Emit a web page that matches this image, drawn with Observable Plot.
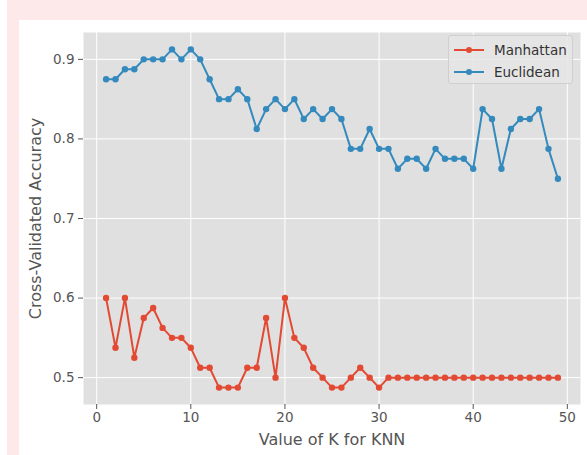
<!DOCTYPE html>
<html><head><meta charset="utf-8">
<script src="https://cdn.jsdelivr.net/npm/d3@7"></script>
<script src="https://cdn.jsdelivr.net/npm/@observablehq/plot@0.6"></script>
<style>
body{margin:0;background:#fff;}
#wrap{position:relative;width:587px;height:455px;overflow:hidden;font-family:"DejaVu Sans",sans-serif;}
.pink-top{position:absolute;left:7px;top:0;width:580px;height:20px;background:#fde8ea;}
.pink-left{position:absolute;left:7px;top:0;width:12px;height:455px;background:#fde8ea;}
#chart{position:absolute;left:0;top:0;}
#legend{position:absolute;left:448px;top:35px;width:125px;height:49px;box-sizing:border-box;background:rgba(229,229,229,0.85);border:1px solid #cfcfcf;border-radius:3px;}
.row{position:absolute;left:0;height:20px;display:flex;align-items:center;}
.row svg{margin-left:5px;}
.row span{margin-left:10px;font-size:13.5px;color:#333;}
</style>
</head><body>
<div id="wrap">
  <div class="pink-top"></div>
  <div class="pink-left"></div>
  <div id="chart"></div>
  <div id="legend"></div>
</div>
<script>
const k = [1,2,3,4,5,6,7,8,9,10,11,12,13,14,15,16,17,18,19,20,21,22,23,24,25,26,27,28,29,30,31,32,33,34,35,36,37,38,39,40,41,42,43,44,45,46,47,48,49];
const manhattan = [0.6,0.5375,0.6,0.525,0.575,0.5875,0.5625,0.55,0.55,0.5375,
  0.5125,0.5125,0.4875,0.4875,0.4875,0.5125,0.5125,0.575,0.5,0.6,
  0.55,0.5375,0.5125,0.5,0.4875,0.4875,0.5,0.5125,0.5,0.4875,
  0.5,0.5,0.5,0.5,0.5,0.5,0.5,0.5,0.5,0.5,
  0.5,0.5,0.5,0.5,0.5,0.5,0.5,0.5,0.5];
const euclidean = [0.875,0.875,0.8875,0.8875,0.9,0.9,0.9,0.9125,0.9,0.9125,
  0.9,0.875,0.85,0.85,0.8625,0.85,0.8125,0.8375,0.85,0.8375,
  0.85,0.825,0.8375,0.825,0.8375,0.825,0.7875,0.7875,0.8125,0.7875,
  0.7875,0.7625,0.775,0.775,0.7625,0.7875,0.775,0.775,0.775,0.7625,
  0.8375,0.825,0.7625,0.8125,0.825,0.825,0.8375,0.7875,0.75];
const series = ["Manhattan","Euclidean"];
const colors = ["#E24A33","#348ABD"];
const xTicks = [0,10,20,30,40,50];
const yTicks = [0.5,0.6,0.7,0.8,0.9];
const xLabel = "Value of K for KNN";
const yLabel = "Cross-Validated Accuracy";

const data = [];
const values = {Manhattan: manhattan, Euclidean: euclidean};
for (const s of series) k.forEach((kk, i) => data.push({k: kk, acc: values[s][i], metric: s}));

const chart = Plot.plot({
  width: 587, height: 455,
  marginLeft: 83, marginRight: 7, marginTop: 32, marginBottom: 51,
  style: {background: "transparent", fontFamily: "DejaVu Sans", fontSize: "13px", color: "#555"},
  x: {domain: [-1.4, 51.4]},
  y: {domain: [0.46625, 0.93375]},
  color: {domain: series, range: colors},
  marks: [
    Plot.frame({fill: "#e0e0e0", stroke: "none"}),
    Plot.gridX(xTicks, {stroke: "white", strokeOpacity: 1, strokeWidth: 1}),
    Plot.gridY(yTicks, {stroke: "white", strokeOpacity: 1, strokeWidth: 1}),
    Plot.axisX(xTicks, {tickSize: 5, tickPadding: 3, label: null, stroke: "#555", fill: "#555", fontSize: 13.5}),
    Plot.axisY(yTicks, {tickSize: 5, tickPadding: 4, label: null, stroke: "#555", fill: "#555", fontSize: 13.5, tickFormat: d => d.toFixed(1)}),
    Plot.line(data, {x: "k", y: "acc", z: "metric", stroke: "metric", strokeWidth: 2}),
    Plot.dot(data, {x: "k", y: "acc", fill: "metric", r: 3.2}),
    Plot.text([xLabel], {frameAnchor: "bottom", dy: 35, textAnchor: "middle", lineAnchor: "middle", text: d => d, fontSize: 16, fill: "#555"}),
    Plot.text([yLabel], {frameAnchor: "left", dx: -48, rotate: -90, textAnchor: "middle", lineAnchor: "middle", text: d => d, fontSize: 16, fill: "#555"})
  ]
});
document.getElementById("chart").appendChild(chart);

const legend = document.getElementById("legend");
series.forEach((s, i) => {
  const row = document.createElement("div");
  row.className = "row";
  row.style.top = (4 + i * 21.5) + "px";
  row.innerHTML = `<svg width="30" height="10"><line x1="0" x2="30" y1="5" y2="5" stroke="${colors[i]}" stroke-width="2"/><circle cx="15" cy="5" r="3" fill="${colors[i]}"/></svg><span>${s}</span>`;
  legend.appendChild(row);
});
</script>
</body></html>
